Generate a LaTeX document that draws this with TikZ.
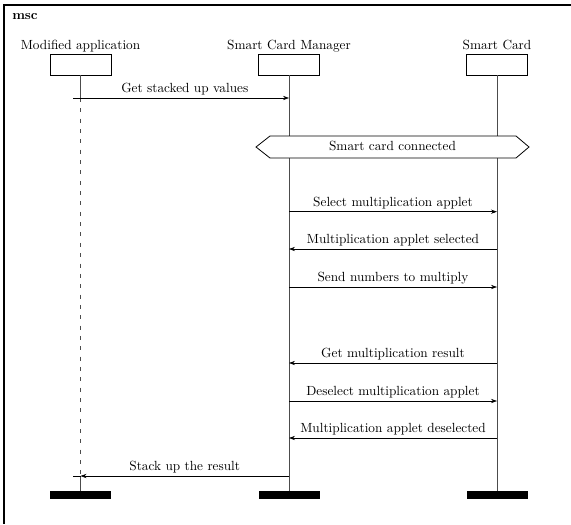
\documentclass[tikz,border=0pt]{standalone}
\usetikzlibrary{arrows.meta}
\begin{document}
\begin{tikzpicture}[x=0.754pt,y=-0.754pt,
  instbox/.style={draw, line width=0.6pt, minimum width=46pt, minimum height=15.8pt, inner sep=0pt},
  insthead/.style={anchor=base, inner sep=0pt},
  lifeline/.style={draw=black!70, line width=0.7pt},
  suspended/.style={lifeline, dash pattern=on 3pt off 4.8pt},
  msgline/.style={line width=0.5pt},
  msg/.style={msgline, -{Stealth[length=4.5pt,width=3.2pt]}},
  msglabel/.style={anchor=base, inner sep=0pt},
  endbar/.style={fill=black, minimum width=46pt, minimum height=6pt, inner sep=0pt},
  condbox/.style={draw, fill=white, line width=0.6pt}]

\useasboundingbox (0,0) rectangle (571,524);

% frame and diagram name
\draw[line width=1pt] (571,5) -- (4,5) -- (4,524);
\node[anchor=base west, font=\bfseries, inner sep=0pt] (title) at (12,19) {msc};

% instance heads
\node[insthead] (apphead) at (80.5,49.5) {Modified application};
\node[insthead] (mgrhead) at (289,49.5) {Smart Card Manager};
\node[insthead] (cardhead) at (497,49.5) {Smart Card};
\node[instbox] (appbox) at (80.5,64.5) {};
\node[instbox] (mgrbox) at (289,64.5) {};
\node[instbox] (cardbox) at (497,64.5) {};

% instance ends
\node[endbar] (appbar) at (80.5,495) {};
\node[endbar] (mgrbar) at (289,495) {};
\node[endbar] (cardbar) at (497,495) {};

% message end points
\coordinate (appstart) at (80.5,98);
\coordinate (appresume) at (80.5,476);
\coordinate (a1) at (73,98);
\coordinate (m1) at (289,98);
\coordinate (m2) at (289,211.7);
\coordinate (c2) at (497,211.7);
\coordinate (m3) at (289,249);
\coordinate (c3) at (497,249);
\coordinate (m4) at (289,287);
\coordinate (c4) at (497,287);
\coordinate (m5) at (289,363);
\coordinate (c5) at (497,363);
\coordinate (m6) at (289,401);
\coordinate (c6) at (497,401);
\coordinate (m7) at (289,438);
\coordinate (c7) at (497,438);
\coordinate (m8) at (289,476);
\coordinate (a8) at (73,476);

% lifelines
\draw[lifeline] (appbox.south) -- (appstart);
\draw[suspended] (appstart) -- (appresume);
\draw[lifeline] (appresume) -- (appbar.north);
\draw[lifeline] (mgrbox.south) -- (mgrbar.north);
\draw[lifeline] (cardbox.south) -- (cardbar.north);

% condition
\draw[condbox] (256,147) -- (270,136) -- (516,136) -- (529,147) -- (516,158) -- (270,158) -- cycle;
\node[anchor=base, inner sep=0pt] (cond) at (392.5,150) {Smart card connected};

% messages
\draw[msg] (a1) -- (m1);
\node[msglabel] (l1) at (184.75,92.5) {Get stacked up values};

\draw[msg] (m2) -- (c2);
\node[msglabel] (l2) at (393,206.2) {Select multiplication applet};

\draw[msg] (c3) -- (m3);
\node[msglabel] (l3) at (393,243.5) {Multiplication applet selected};

\draw[msg] (m4) -- (c4);
\node[msglabel] (l4) at (393,281.5) {Send numbers to multiply};

\draw[msg] (c5) -- (m5);
\node[msglabel] (l5) at (393,357.5) {Get multiplication result};

\draw[msg] (m6) -- (c6);
\node[msglabel] (l6) at (393,395.5) {Deselect multiplication applet};

\draw[msg] (c7) -- (m7);
\node[msglabel] (l7) at (393,432.5) {Multiplication applet deselected};

\draw[msg] (m8) -- (appresume);
\draw[msgline] (appresume) -- (a8);
\node[msglabel] (l8) at (184.75,470.5) {Stack up the result};

\end{tikzpicture}
\end{document}
